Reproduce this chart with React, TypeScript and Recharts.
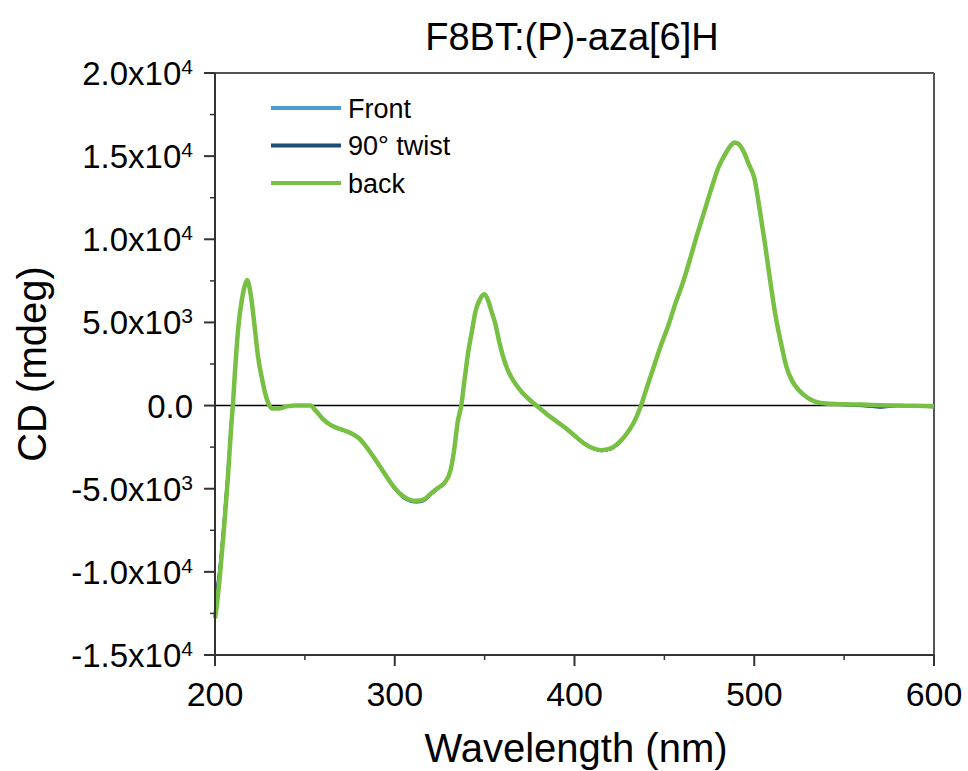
import { LineChart, Line, XAxis, YAxis, ReferenceLine } from "recharts";

const wavelengths = [
  200, 201, 203, 205, 207, 209, 210, 211, 213, 215,
  217, 218, 219, 220, 222, 224, 226, 228, 230, 232,
  236, 240, 245, 250, 253, 256, 260, 264, 268, 272,
  276, 280, 284, 288, 292, 296, 300, 304, 308, 312,
  316, 320, 324, 328, 331, 333, 335, 337, 339, 341,
  343, 345, 347, 349, 350, 352, 354, 356, 358, 360,
  363, 366, 370, 375, 380, 385, 390, 395, 400, 405,
  410, 415, 420, 425, 430, 434, 437, 440, 444, 448,
  452, 456, 460, 464, 468, 472, 476, 480, 484, 487,
  489, 491, 494, 497, 500, 503, 506, 509, 512, 515,
  518, 521, 525, 530, 535, 540, 550, 560, 570, 580,
  590, 600,
];

const front = [
  -11800, -11200, -9400, -6900, -4200, -1000, 300, 2000, 4850, 6450,
  7350, 7500, 7150, 6550, 4750, 2850, 1650, 680, 40, -180,
  -170, -50, 0, 0, 0, -300, -830, -1170, -1370, -1520,
  -1700, -1980, -2480, -3090, -3750, -4400, -5000, -5460, -5720, -5800,
  -5720, -5350, -4980, -4620, -3920, -2700, -1000, 0, 1700, 3300,
  4500, 5650, 6280, 6630, 6680, 6280, 5580, 4880, 3880, 3030,
  2080, 1480, 880, 330, -120, -570, -970, -1380, -1830, -2280,
  -2580, -2720, -2620, -2230, -1570, -820, -20, 980, 2280, 3580,
  4730, 6080, 7280, 8680, 10180, 11580, 12980, 14280, 15120, 15620,
  15800, 15730, 15280, 14480, 13680, 11780, 9680, 7380, 5280, 3680,
  2280, 1480, 880, 430, 180, 100, 40, 0, -100, -20,
  -40, -80,
];

const twist = [
  -11500, -11000, -9300, -6800, -4100, -900, 350, 2050, 4900, 6480,
  7380, 7520, 7170, 6560, 4760, 2860, 1660, 690, 40, -190,
  -180, -60, 0, 0, 0, -300, -840, -1180, -1380, -1530,
  -1710, -1990, -2490, -3100, -3760, -4420, -5020, -5480, -5740, -5820,
  -5740, -5370, -5000, -4640, -3940, -2720, -1020, -10, 1690, 3290,
  4490, 5640, 6270, 6620, 6670, 6270, 5570, 4870, 3870, 3020,
  2070, 1470, 870, 320, -130, -580, -980, -1390, -1840, -2290,
  -2590, -2730, -2630, -2240, -1580, -830, -30, 970, 2270, 3570,
  4720, 6070, 7270, 8670, 10170, 11570, 12970, 14270, 15110, 15610,
  15790, 15720, 15270, 14470, 13670, 11770, 9670, 7370, 5270, 3670,
  2270, 1470, 870, 420, 170, 90, 30, -20, -110, -30,
  -50, -90,
];

const back = [
  -12800, -12000, -9900, -7400, -4600, -1300, 100, 1850, 4740, 6400,
  7350, 7550, 7200, 6600, 4800, 2900, 1700, 700, 50, -180,
  -170, -50, 0, 0, 0, -300, -800, -1150, -1350, -1500,
  -1680, -1950, -2450, -3050, -3700, -4350, -4950, -5400, -5650, -5730,
  -5660, -5300, -4950, -4600, -3900, -2700, -1000, 0, 1700, 3300,
  4500, 5700, 6300, 6650, 6700, 6300, 5600, 4900, 3900, 3050,
  2100, 1500, 900, 350, -100, -550, -950, -1350, -1800, -2250,
  -2550, -2680, -2580, -2200, -1550, -800, 0, 1000, 2300, 3600,
  4750, 6100, 7300, 8700, 10200, 11600, 13000, 14300, 15150, 15650,
  15820, 15750, 15300, 14500, 13700, 11800, 9700, 7400, 5300, 3700,
  2300, 1500, 900, 450, 200, 120, 80, 60, 20, 0,
  -10, -40,
];

const xTicks = [200, 250, 300, 350, 400, 450, 500, 550, 600];
const yTicks = [
  -15000, -12500, -10000, -7500, -5000, -2500, 0, 2500, 5000, 7500, 10000,
  12500, 15000, 17500, 20000,
];

const series = [
  { key: "front", name: "Front", color: "#4b9cd0", width: 2.5 },
  { key: "twist", name: "90° twist", color: "#1c4d74", width: 2.5 },
  { key: "back", name: "back", color: "#77c043", width: 4.5 },
];

const data = wavelengths.map((wl, i) => ({
  wl,
  front: front[i],
  twist: twist[i],
  back: back[i],
}));

const FONT = "'Liberation Sans', Arial, Helvetica, sans-serif";
const AXIS = "#333";

function XTick({ x, y, payload }: any) {
  const v = payload.value;
  const major = v % 100 === 0;
  return (
    <g>
      <line x1={x} x2={x} y1={y} y2={y + (major ? 11 : 5)} stroke={AXIS} strokeWidth={major ? 2 : 1.5} />
      {major && (
        <text x={x} y={y + 51} textAnchor="middle" fontSize={34} fontFamily={FONT} fill="#000">
          {v}
        </text>
      )}
    </g>
  );
}

function YTick({ x, y, payload }: any) {
  const v = payload.value;
  const major = v % 5000 === 0;
  let label: any = null;
  if (major) {
    if (v === 0) {
      label = "0.0";
    } else {
      const exp = Math.floor(Math.log10(Math.abs(v)));
      const mant = (v / Math.pow(10, exp)).toFixed(1);
      label = (
        <>
          {mant}x10
          <tspan fontSize={21} dy={-11}>
            {exp}
          </tspan>
        </>
      );
    }
  }
  return (
    <g>
      <line x1={x} x2={x - (major ? 11 : 5)} y1={y} y2={y} stroke={AXIS} strokeWidth={major ? 2 : 1.5} />
      {major && (
        <text x={x - 22} y={y + 12} textAnchor="end" fontSize={33} fontFamily={FONT} fill="#000">
          {label}
        </text>
      )}
    </g>
  );
}

export default function App() {
  return (
    <div style={{ position: "absolute", left: 0, top: 0, width: 968, height: 771, background: "#fff" }}>
      <LineChart
        width={968}
        height={771}
        data={data}
        margin={{ top: 73, right: 34, bottom: 56, left: 65 }}
      >
        <XAxis
          dataKey="wl"
          type="number"
          domain={[200, 600]}
          ticks={xTicks}
          interval={0}
          height={60}
          tickSize={0}
          tickMargin={0}
          tickLine={false}
          tick={<XTick />}
          axisLine={{ stroke: AXIS, strokeWidth: 2 }}
        />
        <YAxis
          type="number"
          domain={[-15000, 20000]}
          ticks={yTicks}
          interval={0}
          width={150}
          tickSize={0}
          tickMargin={0}
          tickLine={false}
          tick={<YTick />}
          axisLine={{ stroke: AXIS, strokeWidth: 2 }}
        />
        <ReferenceLine y={20000} stroke="#555" strokeWidth={2} />
        <ReferenceLine x={600} stroke="#555" strokeWidth={2} />
        <ReferenceLine y={0} stroke="#000" strokeWidth={1.5} />
        {series.map((s) => (
          <Line
            key={s.key}
            type="monotone"
            dataKey={s.key}
            name={s.name}
            stroke={s.color}
            strokeWidth={s.width}
            dot={false}
            isAnimationActive={false}
          />
        ))}
      </LineChart>
      <svg
        width={968}
        height={771}
        style={{ position: "absolute", left: 0, top: 0, pointerEvents: "none" }}
        fontFamily={FONT}
      >
        <text x={572} y={50} textAnchor="middle" fontSize={38} fill="#000">
          F8BT:(P)-aza[6]H
        </text>
        <text x={576} y={762} textAnchor="middle" fontSize={40} fill="#000">
          Wavelength (nm)
        </text>
        <text transform="translate(46, 364) rotate(-90)" textAnchor="middle" fontSize={40} fill="#000">
          CD (mdeg)
        </text>
        {series.map((s, i) => (
          <g key={s.key}>
            <line x1={271} x2={341} y1={108 + i * 37.5} y2={108 + i * 37.5} stroke={s.color} strokeWidth={4} />
            <text x={348} y={108 + i * 37.5 + 9.5} fontSize={27} fill="#000">
              {s.name}
            </text>
          </g>
        ))}
      </svg>
    </div>
  );
}
